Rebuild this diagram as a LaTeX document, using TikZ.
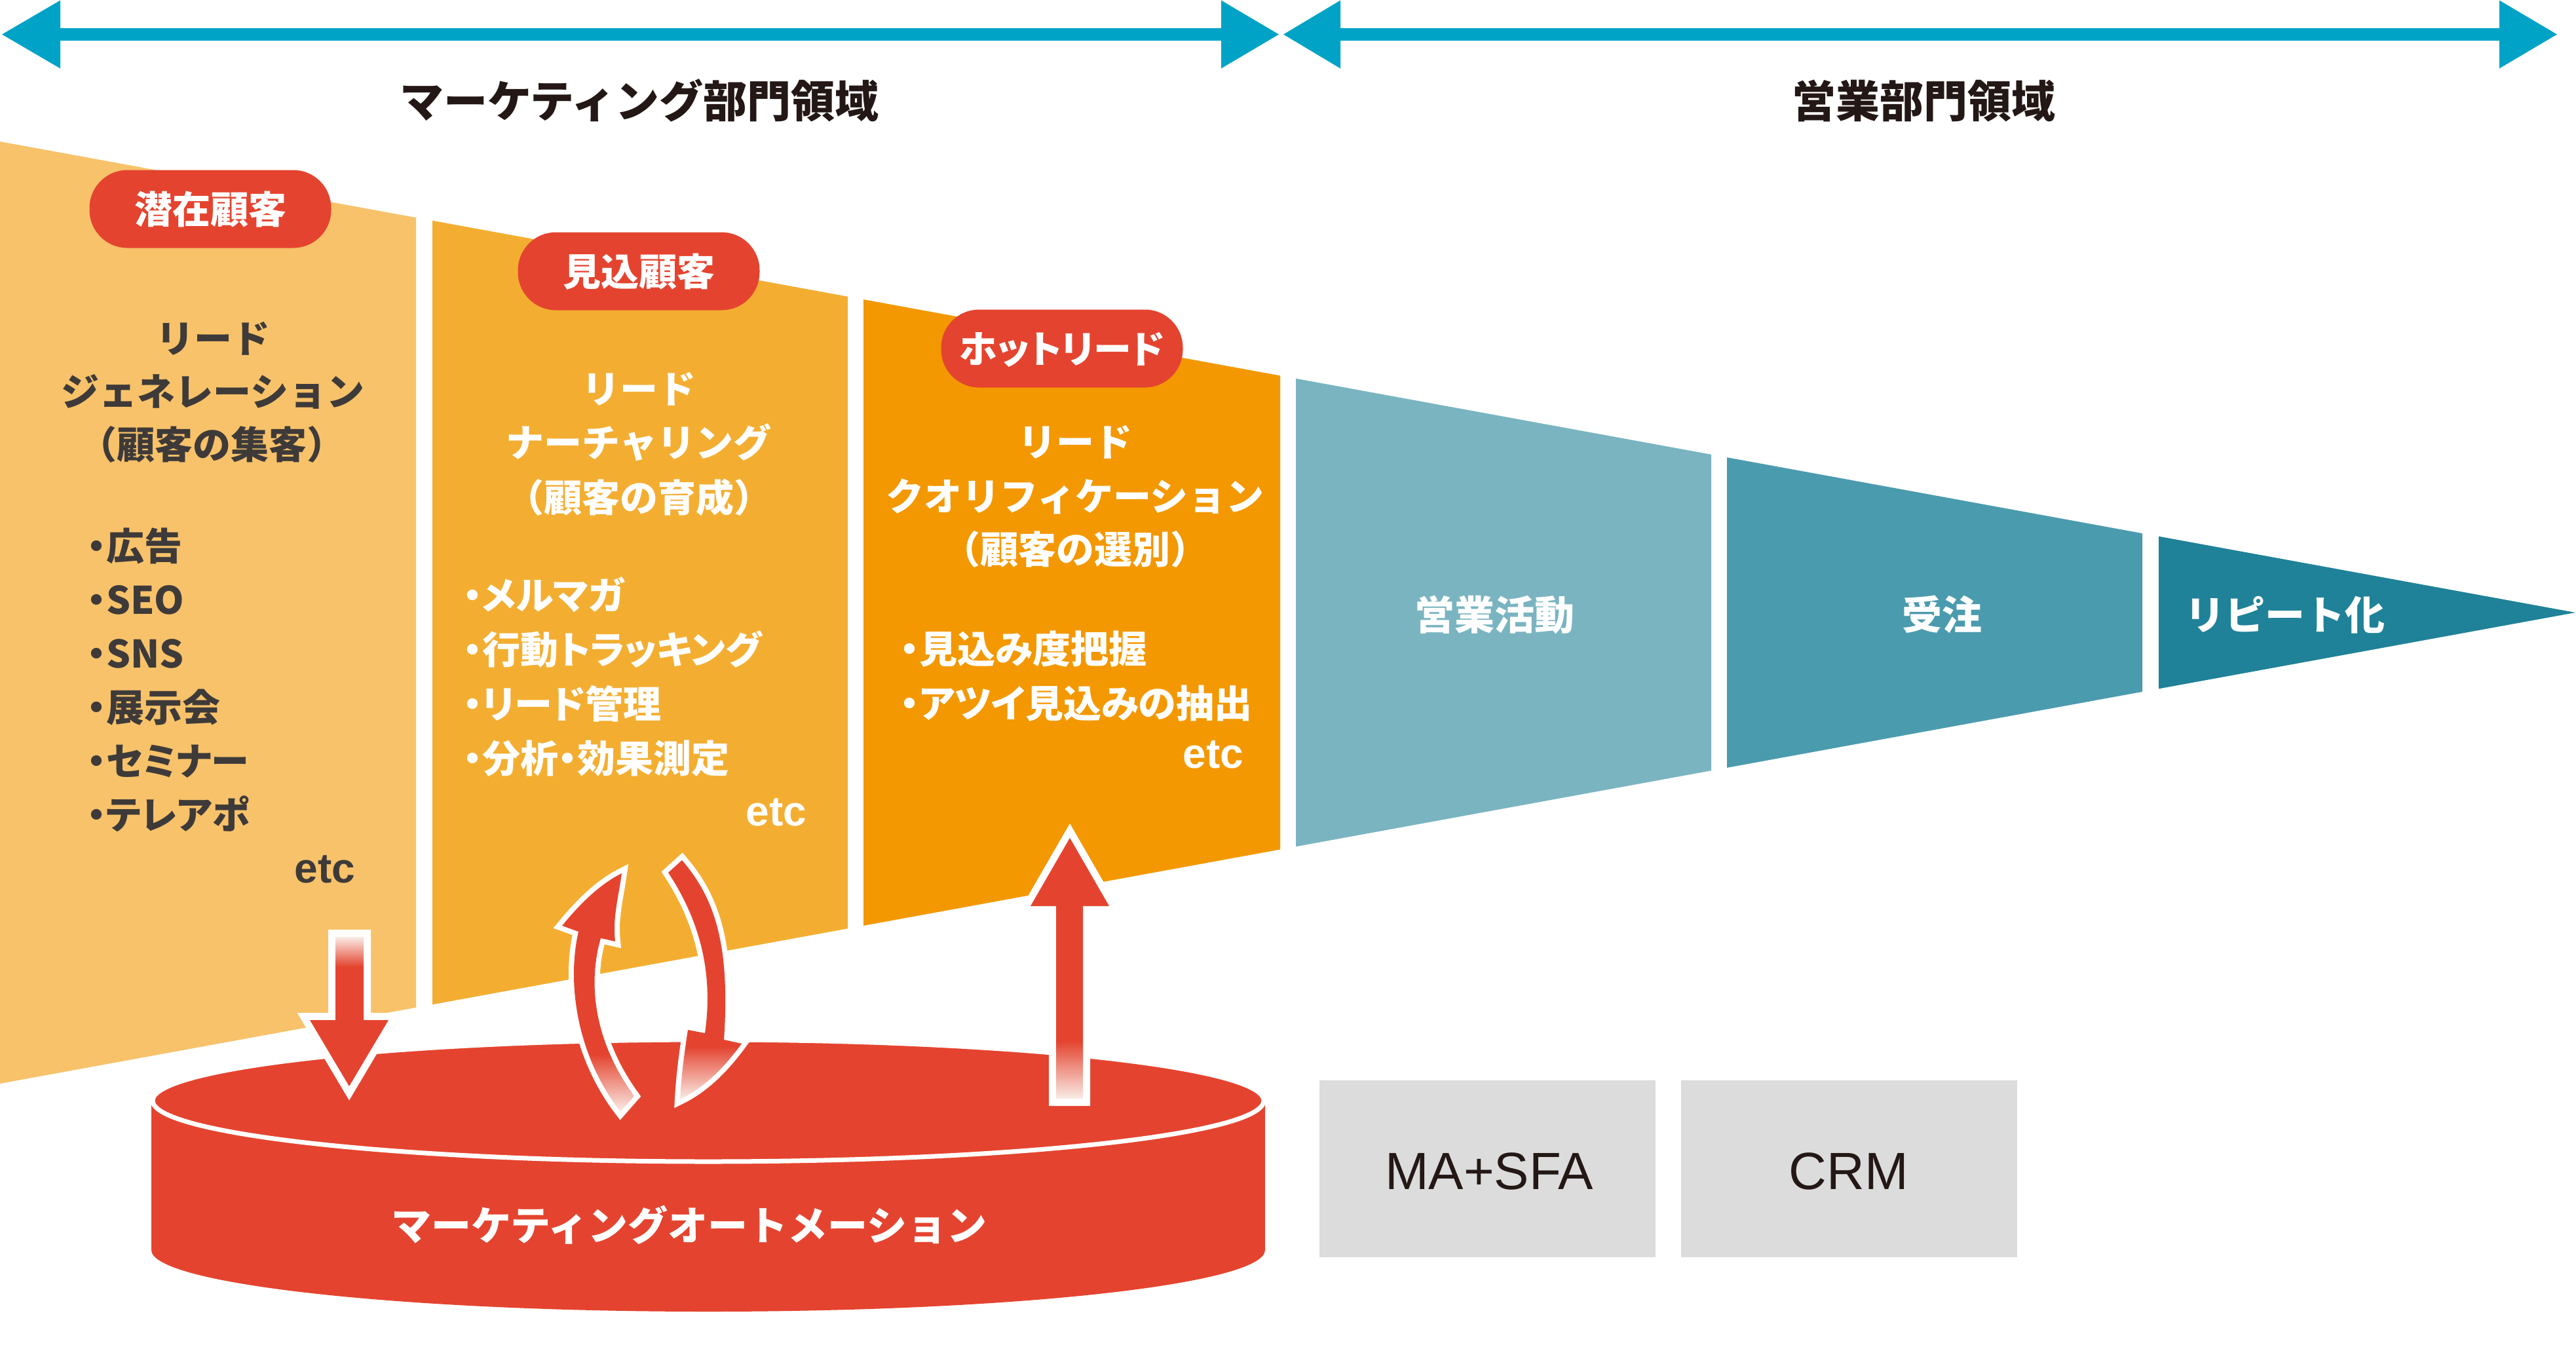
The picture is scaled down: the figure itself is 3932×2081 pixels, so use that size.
\documentclass[tikz,border=0pt]{standalone}
\usepackage{fontspec}
\newfontfamily\jp{Noto Sans CJK JP}
\newfontfamily\jpp{Noto Sans CJK JP}[RawFeature=+palt]
\newfontfamily\lat{Liberation Sans}
\definecolor{cyanA}{RGB}{0,163,198}
\definecolor{segA}{RGB}{247,194,106}
\definecolor{segB}{RGB}{243,174,50}
\definecolor{segC}{RGB}{243,152,0}
\definecolor{bluA}{RGB}{122,180,193}
\definecolor{bluB}{RGB}{75,155,174}
\definecolor{bluC}{RGB}{31,130,152}
\definecolor{mred}{RGB}{228,68,47}
\definecolor{fadec}{RGB}{250,236,231}
\definecolor{darktxt}{RGB}{62,58,57}
\definecolor{blacktxt}{RGB}{35,24,21}
\definecolor{grayb}{RGB}{220,220,221}
\pgfdeclareverticalshading{shLcurve}{100bp}{color(0bp)=(fadec); color(25bp)=(fadec); color(37bp)=(mred); color(100bp)=(mred)}
\pgfdeclareverticalshading{shRcurve}{100bp}{color(0bp)=(fadec); color(25bp)=(fadec); color(36bp)=(mred); color(100bp)=(mred)}
\pgfdeclareverticalshading{shDown}{100bp}{color(0bp)=(mred); color(65bp)=(mred); color(75bp)=(fadec); color(100bp)=(fadec)}
\pgfdeclareverticalshading{shUp}{100bp}{color(0bp)=(fadec); color(25bp)=(fadec); color(36bp)=(mred); color(100bp)=(mred)}
\newcommand{\funnelseg}[3]{\fill[#3] (#1,{216+0.1829*#1}) -- (#2,{216+0.1829*#2}) -- (#2,{1654-0.1829*#2}) -- (#1,{1654-0.1829*#1}) -- cycle;}
\tikzset{
  hd/.style={font=\jp\bfseries\fontsize{67}{70}\selectfont, text=blacktxt, inner sep=0pt, text height=51pt, text depth=0pt},
  segd/.style={font=\jp\bfseries\fontsize{58}{60}\selectfont, text=darktxt, inner sep=0pt, text height=44pt, text depth=0pt},
  segw/.style={segd, text=white},
  buld/.style={segd, font=\jpp\bfseries\fontsize{58}{60}\selectfont, anchor=west},
  bulw/.style={buld, text=white},
  etcd/.style={font=\lat\bfseries\fontsize{64}{66}\selectfont, text=darktxt, inner sep=0pt, text height=33pt, text depth=0pt},
  etcw/.style={etcd, text=white},
  badge/.style={font=\jp\bfseries\fontsize{58}{60}\selectfont, text=white, fill=mred, inner sep=0pt, text height=44pt, text depth=0pt, minimum width=369pt, minimum height=119pt, rounded corners=58pt},
  bluetxt/.style={font=\jp\bfseries\fontsize{61}{63}\selectfont, text=white, inner sep=0pt, text height=46pt, text depth=0pt},
  boxtxt/.style={font=\lat\fontsize{80}{82}\selectfont, text=blacktxt, inner sep=0pt, text height=57pt, text depth=0pt},
  graybox/.style={fill=grayb, inner sep=0pt, minimum width=513pt, minimum height=270pt},
  wline/.style={draw=white, line width=22pt, line join=miter},
  wlinec/.style={draw=white, line width=16pt, line join=miter}
}
\begin{document}
\begin{tikzpicture}[x=1pt,y=-1pt]
\useasboundingbox (0,0) rectangle (3932,2081);
% top arrows
\fill[cyanA] (3,52.5) -- (92,0.5) -- (92,43) -- (1864,43) -- (1864,0.5) -- (1952,52.5) -- (1864,104.5) -- (1864,62) -- (92,62) -- (92,104.5) -- cycle;
\fill[cyanA] (1959,52.5) -- (2046,0.5) -- (2046,43) -- (3815,43) -- (3815,0.5) -- (3903,52.5) -- (3815,104.5) -- (3815,62) -- (2046,62) -- (2046,104.5) -- cycle;
\node[hd] (hmkt) at (976,154) {マーケティング部門領域};
\node[hd] (hsales) at (2936,154) {営業部門領域};
% funnel
\funnelseg{0}{635}{segA}
\funnelseg{660}{1294}{segB}
\funnelseg{1318}{1954}{segC}
\funnelseg{1978}{2612}{bluA}
\funnelseg{2636}{3270}{bluB}
\fill[bluC] (3295,{216+0.1829*3295}) -- (3931,935) -- (3295,{1654-0.1829*3295}) -- cycle;
% badges
\node[badge] (b1) at (321,319) {潜在顧客};
\node[badge] (b2) at (975,414) {見込顧客};
\node[badge, font=\jpp\bfseries\fontsize{58}{60}\selectfont] (b3) at (1621,532) {ホットリード};
% segment 1
\node[segd] (s1a) at (325,516) {リード};
\node[segd] (s1b) at (325,597) {ジェネレーション};
\node[segd] (s1c) at (323,678) {（顧客の集客）};
\node[buld] (s1d) at (133,833) {・広告};
\node[buld] (s1e) at (133,915) {・SEO};
\node[buld] (s1f) at (133,997) {・SNS};
\node[buld] (s1g) at (133,1079) {・展示会};
\node[buld] (s1h) at (133,1161) {・セミナー};
\node[buld] (s1i) at (133,1243) {・テレアポ};
\node[etcd] (s1etc) at (496,1331) {etc};
% segment 2
\node[segw] (s2a) at (975,593) {リード};
\node[segw] (s2b) at (975,675) {ナーチャリング};
\node[segw] (s2c) at (975,759) {（顧客の育成）};
\node[bulw] (s2d) at (707,908) {・メルマガ};
\node[bulw] (s2e) at (707,991) {・行動トラッキング};
\node[bulw] (s2f) at (707,1074) {・リード管理};
\node[bulw] (s2g) at (707,1157) {・分析・効果測定};
\node[etcw] (s2etc) at (1185,1244) {etc};
% segment 3
\node[segw] (s3a) at (1641,674) {リード};
\node[segw] (s3b) at (1641,757) {クオリフィケーション};
\node[segw] (s3c) at (1641,838) {（顧客の選別）};
\node[bulw] (s3d) at (1374,990) {・見込み度把握};
\node[bulw] (s3e) at (1374,1073) {・アツイ見込みの抽出};
\node[etcw] (s3etc) at (1852,1156) {etc};
% sales segments
\node[bluetxt] (s4) at (2281,938) {営業活動};
\node[bluetxt] (s5) at (2964,938) {受注};
\node[bluetxt] (s6) at (3488,938) {リピート化};
% gray boxes
\node[graybox] (ma) at (2270.5,1784) {};
\node[boxtxt] (matxt) at (2273,1787) {MA+SFA};
\node[graybox] (crm) at (2822.5,1784) {};
\node[boxtxt] (crmtxt) at (2822,1787) {CRM};
% cylinder
\fill[mred] (231,1680) -- (231,1908) arc[start angle=180, end angle=0, x radius=850, y radius=94] -- (1931,1680) -- cycle;
\draw[white, line width=7pt, fill=mred] (1081,1680) ellipse [x radius=848, y radius=93];
\node[bluetxt] (ma_auto) at (1052,1870) {マーケティングオートメーション};
% straight arrows
\shade[shading=shDown, preaction={wline}] (512,1430) -- (555,1430) -- (555,1557) -- (593,1557) -- (533,1658) -- (473,1557) -- (512,1557) -- cycle;
\shade[shading=shUp, preaction={wline}] (1612,1677) -- (1653,1677) -- (1653,1383) -- (1693,1383) -- (1633,1279) -- (1573,1383) -- (1612,1383) -- cycle;
% curved arrows
\shade[shading=shLcurve, preaction={wlinec}] (949,1333) .. controls (944,1370) and (935,1400) .. (939,1437) -- (917,1432) .. controls (900,1490) and (900,1580) .. (968,1673) -- (947,1697) .. controls (880,1610) and (865,1500) .. (883,1422) -- (858,1413) .. controls (885,1380) and (915,1350) .. (949,1333) -- cycle;
\shade[shading=shRcurve, preaction={wlinec}] (1041,1313) .. controls (1090,1370) and (1115,1440) .. (1105,1587) -- (1132,1593) .. controls (1105,1630) and (1075,1660) .. (1038,1678) .. controls (1040,1640) and (1045,1605) .. (1050,1572) -- (1076,1577) .. controls (1090,1480) and (1065,1400) .. (1020,1332) -- cycle;
\end{tikzpicture}
\end{document}
